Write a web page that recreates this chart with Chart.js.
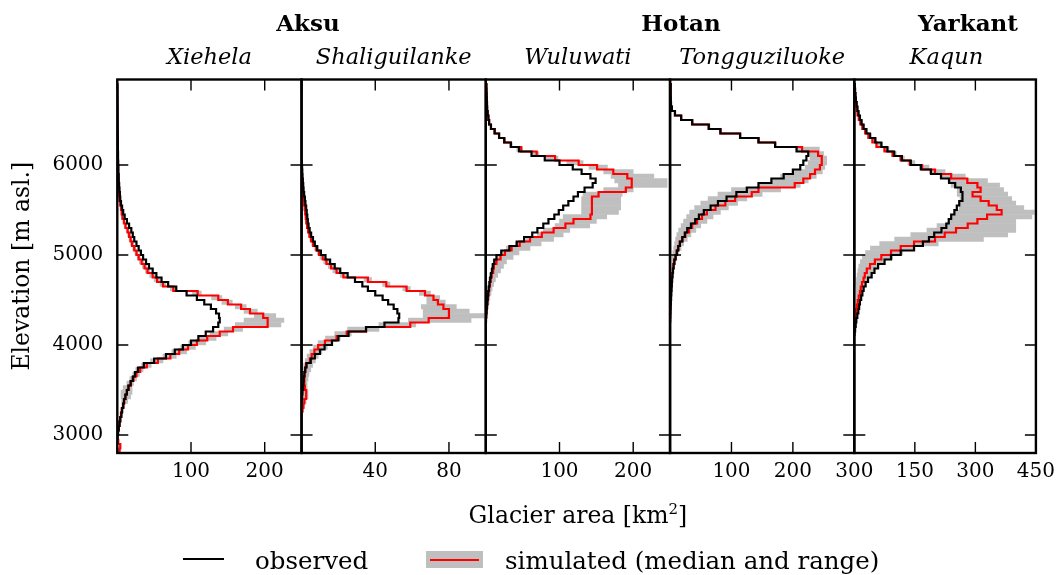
<!DOCTYPE html>
<html>
<head>
<meta charset="utf-8">
<script src="https://cdn.jsdelivr.net/npm/chart.js@4.4.1/dist/chart.umd.min.js"></script>
<style>
  html, body { margin: 0; padding: 0; background: #fff; }
  #wrap { position: relative; width: 1062px; height: 575px; overflow: hidden; font-family: "DejaVu Serif", serif; color: #000; }
  #wrap canvas { position: absolute; left: 0; top: 0; }
  .c { position: absolute; white-space: nowrap; line-height: 1; transform: translate(-50%, -50%); }
  .l { position: absolute; white-space: nowrap; line-height: 1; transform: translate(0, -50%); }
  .basin { font-weight: bold; font-size: 23px; }
  .station { font-style: italic; font-size: 22.5px; }
  .big { font-size: 23.5px; }
  .leg { font-size: 24.5px; }
  sup { font-size: 15px; line-height: 0; }
</style>
</head>
<body>
<div id="wrap"></div>
<script>
const _ = null;

// bin lower edges (m asl.), 50 m bins
const elevation = [
  2800, 2850, 2900, 2950, 3000, 3050, 3100, 3150, 3200, 3250,
  3300, 3350, 3400, 3450, 3500, 3550, 3600, 3650, 3700, 3750,
  3800, 3850, 3900, 3950, 4000, 4050, 4100, 4150, 4200, 4250,
  4300, 4350, 4400, 4450, 4500, 4550, 4600, 4650, 4700, 4750,
  4800, 4850, 4900, 4950, 5000, 5050, 5100, 5150, 5200, 5250,
  5300, 5350, 5400, 5450, 5500, 5550, 5600, 5650, 5700, 5750,
  5800, 5850, 5900, 5950, 6000, 6050, 6100, 6150, 6200, 6250,
  6300, 6350, 6400, 6450, 6500, 6550, 6600, 6650, 6700, 6750,
  6800, 6850, 6900
];

const basins = ['Aksu', 'Hotan', 'Yarkant'];
const stations = ['Xiehela', 'Shaliguilanke', 'Wuluwati', 'Tongguziluoke', 'Kaqun'];

// glacier area per bin [km2]
const xiehelaObs = [
  _, _, _, 0.3, 1, 2, 3, 4, 5.5, 6.5,
  8, 9, 11, 13, 15, 18, 21, 24, 28, 36,
  50, 66, 78, 89, 100, 110, 120, 130, 137, 139,
  138, 134, 127, 118, 108, 94, 80, 69, 60, 53,
  48, 43, 39, 35, 32, 29, 26, 23, 21, 19,
  16, 13, 10, 8, 6.5, 5, 4, 3.5, 3, 2.5,
  2, 2, 1.5, 1.5, 1.2, 1, 1, 0.8, 0.8, 0.7,
  0.6, 0.5, 0.5, 0.4, 0.4, 0.3, 0.3, 0.2, 0.2, 0.1,
  0.1, 0.1, 0
];
const xiehelaSim = [
  3, 4, 1, 0.5, 1, 2, 3, 4, 5, 6,
  8, 9.5, 11, 13, 15.5, 18.5, 22, 26, 31, 40,
  55, 72, 84, 96, 108, 122, 139, 157, 204, 204,
  198, 180, 168, 150, 137, 109, 76, 62, 54, 48,
  41, 37, 33, 29, 26, 23, 20, 18, 16, 14,
  11, 9, 7, 6, 5, 4, 3, 2.5, 2, 1.8,
  1.5, 1.3, 1.1, 1, 0.9, 0.8, 0.7, 0.6, 0.5, 0.5,
  0.4, 0.4, 0.3, 0.3, 0.2, 0.2, 0.2, 0.1, 0.1, 0.1,
  0.1, 0, 0
];
const xiehelaMin = [
  2, 3, 0.5, 0.2, 0.5, 1, 2, 3, 4, 5,
  6, 6, 5, 5, 8, 13, 17, 21, 25, 33,
  45, 62, 74, 86, 97, 110, 126, 145, 160, 172,
  186, 172, 160, 142, 128, 102, 72, 58, 50, 44,
  38, 34, 30, 27, 24, 21, 18, 16, 14, 12,
  10, 8, 6, 5, 4, 3, 2.5, 2, 1.5, 1.4,
  1.2, 1, 0.9, 0.8, 0.7, 0.6, 0.5, 0.5, 0.4, 0.4,
  0.3, 0.3, 0.2, 0.2, 0.1, 0.1, 0.1, 0.1, 0, 0,
  0, 0, 0
];
const xiehelaMax = [
  4, 5, 3, 1.5, 2, 3, 4, 5, 7, 8,
  10, 14, 18, 20, 20, 22, 26, 30, 35, 46,
  62, 80, 94, 106, 120, 134, 150, 170, 222, 226,
  215, 190, 175, 156, 142, 114, 80, 66, 58, 51,
  44, 40, 36, 31, 28, 25, 22, 20, 18, 16,
  13, 10, 8, 7, 6, 5, 4, 3, 2.5, 2.2,
  1.9, 1.6, 1.4, 1.2, 1.1, 1, 0.9, 0.8, 0.7, 0.6,
  0.5, 0.5, 0.4, 0.4, 0.3, 0.3, 0.3, 0.2, 0.2, 0.2,
  0.1, 0.1, 0.1
];

const shaliObs = [
  _, _, _, _, _, _, _, _, _, _,
  0.1, 0.2, 0.3, 0.5, 0.8, 1, 1.2, 1.5, 2, 2.7,
  5, 7.2, 10, 12.5, 16.5, 20, 25.5, 35, 45, 52.6,
  53, 52, 50, 47, 44, 40, 36, 33, 29, 25,
  21, 18, 15.5, 13, 10.5, 8.5, 7.2, 6.2, 5.2, 4.4,
  3.8, 3.4, 3.1, 2.8, 2.5, 2.1, 1.8, 1.4, 1.1, 0.9,
  0.7, 0.5, 0.4, 0.3, 0.1, 0, _, _, _, _,
  _, _, _, _, _, _, _, _, _, _,
  _, _, _
];
const shaliSim = [
  _, _, _, _, _, _, _, _, _, 0.5,
  1, 1.5, 2.5, 2.5, 1.8, 1.5, 1.5, 1.8, 2, 2.5,
  4.5, 5.5, 7, 9, 12.7, 19, 24.5, 35, 59, 69,
  80, 80, 77, 74, 71.6, 67, 57, 46, 36, 22.7,
  19, 16, 13.5, 11.5, 9.5, 8, 6.3, 5.2, 4.3, 3.6,
  3, 2.6, 2.3, 2, 1.7, 1.4, 1.1, 0.9, 0.7, 0.5,
  0.4, 0.3, 0.2, 0.1, 0, _, _, _, _, _,
  _, _, _, _, _, _, _, _, _, _,
  _, _, _
];
const shaliMin = [
  _, _, _, _, _, _, _, _, _, 0.2,
  0.5, 0.8, 1, 0.5, 0.5, 0.5, 0.8, 1, 1, 1.2,
  2, 3, 4.5, 6.5, 9, 13, 18, 25, 42, 58,
  66, 66, 65, 68, 68, 64, 55, 44, 34, 21,
  17, 14.5, 12, 10, 8.5, 7, 5.5, 4.5, 3.8, 3.2,
  2.6, 2.2, 2, 1.7, 1.4, 1.2, 0.9, 0.7, 0.5, 0.4,
  0.3, 0.2, 0.1, 0, 0, _, _, _, _, _,
  _, _, _, _, _, _, _, _, _, _,
  _, _, _
];
const shaliMax = [
  _, _, _, _, _, _, _, _, _, 1,
  1.5, 2.5, 3.5, 3.5, 3, 3, 3.5, 4, 5, 6,
  7.5, 9, 11, 14, 17, 21, 27, 42, 62, 92,
  99, 91, 84, 78, 75, 70, 59, 48, 38, 24,
  21, 18, 15, 13, 11, 9, 7.2, 6, 5, 4.2,
  3.5, 3, 2.7, 2.3, 2, 1.7, 1.4, 1.1, 0.9, 0.7,
  0.5, 0.4, 0.3, 0.2, 0.1, _, _, _, _, _,
  _, _, _, _, _, _, _, _, _, _,
  _, _, _
];

const wuluObs = [
  _, _, _, _, _, _, _, _, _, _,
  _, _, _, _, _, _, _, _, _, _,
  _, _, _, _, _, _, _, _, _, 0.3,
  0.6, 1, 1.5, 2, 2.6, 3.3, 4, 5, 6, 7,
  8.5, 9.5, 11.5, 14.5, 21, 32, 42, 52, 63, 70,
  78, 85, 93, 99, 105, 112, 119, 125, 134, 145,
  149, 142, 130, 118, 100, 80, 62, 45, 34, 25,
  18, 12, 7, 4.5, 3.5, 2.5, 1.8, 1.6, 1.4, 1.2,
  1, 0.8, 0.5
];
const wuluSim = [
  _, _, _, _, _, _, _, _, _, _,
  _, _, _, _, _, _, _, _, _, _,
  _, _, _, _, _, _, _, _, _, _,
  0.6, 1.1, 1.6, 2.2, 2.8, 3.5, 4.5, 5.4, 6.5, 8,
  10, 11, 14.5, 20, 26, 35, 46, 60, 76, 92,
  108, 119, 142, 144, 144, 144, 144, 153, 190, 198,
  198, 192, 173, 151, 126, 94, 69, 48, 34, 25,
  18, 12, 7, 4.5, 3.5, 2.5, 1.8, 1.6, 1.4, 1.2,
  1, 0.8, 0.5
];
const wuluMin = [
  _, _, _, _, _, _, _, _, _, _,
  _, _, _, _, _, _, _, _, _, _,
  _, _, _, _, _, _, _, _, _, 0,
  0, 0.3, 0.6, 1, 1.5, 2, 2.5, 3, 4, 5,
  6.5, 8, 10, 14, 20, 28, 40, 55, 70, 78,
  94, 100, 105, 130, 130, 130, 130, 132, 160, 180,
  175, 170, 160, 140, 110, 82, 62, 42, 33, 24,
  17, 11, 6.5, 4, 3, 2.2, 1.6, 1.4, 1.2, 1,
  0.8, 0.6, 0.4
];
const wuluMax = [
  _, _, _, _, _, _, _, _, _, _,
  _, _, _, _, _, _, _, _, _, _,
  _, _, _, _, _, _, _, _, _, 0.8,
  1.5, 2.5, 3.5, 4.5, 5.5, 7, 8.5, 10.5, 13, 16,
  20, 24, 28, 37, 45, 60, 75, 92, 105, 114,
  141, 150, 164, 180, 183, 183, 183, 185, 200, 246,
  246, 228, 200, 165, 132, 98, 72, 50, 36, 27,
  19, 13, 7.5, 5, 4, 2.8, 2, 1.8, 1.6, 1.4,
  1.2, 1, 0.7
];

const tongObs = [
  _, _, _, _, _, _, _, _, _, _,
  _, _, _, _, _, _, _, _, _, _,
  _, _, _, _, _, _, _, _, _, 0.2,
  0.4, 0.7, 1, 1.3, 1.7, 2.1, 2.5, 2.9, 3.4, 4,
  4.8, 5.8, 7, 9, 11, 13.5, 16, 20, 24, 28,
  34, 41, 47, 55, 66, 78, 92, 108, 125, 144,
  165, 185, 200, 212, 217, 222, 225, 206, 171, 144,
  114, 82, 63, 36, 18, 8, 3, 1.5, 1.2, 1,
  1, 1, 0.8
];
const tongSim = [
  _, _, _, _, _, _, _, _, _, _,
  _, _, _, _, _, _, _, _, _, _,
  _, _, _, _, _, _, _, _, _, _,
  0, 0.2, 0.4, 0.7, 1, 1.4, 1.8, 2.2, 2.8, 3.5,
  4.5, 5.5, 7, 9, 11, 13, 16, 20, 25, 31,
  36, 44, 52, 60, 74, 90, 106, 133, 144, 203,
  217, 228, 236, 244, 247, 247, 241, 215, 171, 144,
  114, 82, 63, 36, 18, 8, 3, 1.5, 1.2, 1,
  1, 1, 0.8
];
const tongMin = [
  _, _, _, _, _, _, _, _, _, _,
  _, _, _, _, _, _, _, _, _, _,
  _, _, _, _, _, _, _, _, _, _,
  0, 0, 0, 0, 0.1, 0.2, 0.3, 0.5, 0.7, 1,
  1.5, 2, 2.5, 3.5, 4.5, 6, 7.5, 9, 11, 14,
  18, 22, 27, 32, 40, 50, 62, 78, 100, 145,
  165, 180, 200, 220, 225, 228, 225, 205, 170, 143,
  113, 81, 62, 35, 17, 7.5, 2.5, 1.2, 1, 0.8,
  0.8, 0.8, 0.6
];
const tongMax = [
  _, _, _, _, _, _, _, _, _, _,
  _, _, _, _, _, _, _, _, _, _,
  _, _, _, _, _, _, _, _, _, _,
  0.1, 0.3, 0.6, 1, 1.5, 2, 2.5, 3.2, 4, 5,
  6, 7, 9, 11, 14, 18, 22, 28, 34, 42,
  50, 60, 70, 82, 95, 110, 125, 150, 180, 212,
  225, 238, 248, 252, 255, 255, 250, 243, 173, 146,
  116, 84, 65, 38, 20, 9, 3.5, 1.8, 1.4, 1.2,
  1.2, 1.2, 1
];

const kaqunObs = [
  _, _, _, _, _, _, _, _, _, _,
  _, _, _, _, _, _, _, _, _, _,
  _, _, _, _, _, _, 0.5, 2, 3.5, 5,
  7.5, 10, 12, 14, 17, 20, 23, 28, 34, 43,
  50, 59, 75, 91, 115, 148, 170, 185, 198, 216,
  228, 234, 240, 248, 254, 260, 268, 268, 264, 250,
  235, 215, 190, 165, 140, 118, 99, 82, 67, 52,
  39, 30, 23, 18, 14, 10.6, 8, 6, 4, 3,
  2, 1.5, 1
];
const kaqunSim = [
  _, _, _, _, _, _, _, _, _, _,
  _, _, _, _, _, _, _, _, _, _,
  _, _, _, _, _, _, _, 0.5, 1, 2,
  3, 4.5, 6.5, 8.5, 11, 14, 16, 19, 23, 26,
  31, 39, 51, 67, 91, 115, 148, 200, 224, 252,
  281, 305, 329, 365, 353, 333, 313, 293, 313, 305,
  280, 240, 200, 168, 138, 115, 95, 75, 55, 45,
  35, 27, 20, 15, 11, 8, 6, 4.5, 3.5, 2.5,
  1.5, 1, 0.5
];
const kaqunMin = [
  _, _, _, _, _, _, _, _, _, _,
  _, _, _, _, _, _, _, _, _, _,
  _, _, _, _, _, _, 0, 0, 0.1, 0.3,
  0.5, 0.8, 1.2, 1.7, 2.3, 3, 3.5, 4.5, 5.5, 7,
  9, 11, 15, 20, 28, 40, 63, 100, 140, 180,
  205, 236, 240, 250, 260, 262, 262, 255, 255, 240,
  232, 212, 186, 162, 133, 112, 92, 72, 53, 43,
  33, 25, 18, 13.5, 10, 7, 5, 3.5, 2.5, 1.8,
  1, 0.6, 0.2
];
const kaqunMax = [
  _, _, _, _, _, _, _, _, _, _,
  _, _, _, _, _, _, _, _, _, _,
  _, _, _, _, _, _, 0.6, 2, 4, 5.5,
  8, 10.5, 12.5, 15, 18, 21, 25, 29, 35, 43,
  50, 60, 75, 95, 120, 150, 208, 320, 380, 400,
  400, 400, 440, 446, 420, 400, 390, 380, 370, 360,
  330, 275, 225, 185, 150, 124, 104, 86, 70, 55,
  42, 32, 25, 19.5, 15, 11.5, 8.5, 6.5, 4.5, 3.5,
  2.5, 2, 1.5
];

// axis ranges and ticks
const xMax = [250, 100, 250, 300, 450];
const xTicks = [[0, 100, 200], [0, 40, 80], [0, 100, 200], [0, 100, 200, 300], [0, 150, 300, 450]];
const yTicks = [3000, 4000, 5000, 6000];

const panels = [
  { obs: xiehelaObs, sim: xiehelaSim, lo: xiehelaMin, hi: xiehelaMax },
  { obs: shaliObs, sim: shaliSim, lo: shaliMin, hi: shaliMax },
  { obs: wuluObs, sim: wuluSim, lo: wuluMin, hi: wuluMax },
  { obs: tongObs, sim: tongSim, lo: tongMin, hi: tongMax },
  { obs: kaqunObs, sim: kaqunSim, lo: kaqunMin, hi: kaqunMax }
];

// layout (px)
const W = 1062, H = 575;
const plotLeft = 117.3, plotW = 184.25, plotTop = 79.5, plotBottom = 453, xAxisH = 40;
const FONT = 'DejaVu Serif';

const wrap = document.getElementById('wrap');

function steps(vals) {
  const out = [];
  vals.forEach((v, i) => { if (v !== null) out.push({ x: v, y: elevation[i] }); });
  return out;
}
function band(lo, hi) {
  const out = [];
  lo.forEach((v, i) => {
    if (v !== null && hi[i] !== null) out.push({ x: [v, hi[i]], y: elevation[i] + 25 });
  });
  return out;
}

// frame + inward tick marks
const frame = {
  id: 'frame',
  afterDraw(chart) {
    const { ctx, chartArea: a } = chart;
    const sx = chart.scales.x, sy = chart.scales.y;
    const tl = 11;
    ctx.save();
    ctx.strokeStyle = '#000';
    ctx.lineWidth = 1.4;
    ctx.beginPath();
    sx.ticks.forEach(t => {
      const p = sx.getPixelForValue(t.value);
      ctx.moveTo(p, a.bottom); ctx.lineTo(p, a.bottom - tl);
      ctx.moveTo(p, a.top); ctx.lineTo(p, a.top + tl);
    });
    sy.ticks.forEach(t => {
      const p = sy.getPixelForValue(t.value);
      ctx.moveTo(a.left, p); ctx.lineTo(a.left + tl, p);
      ctx.moveTo(a.right, p); ctx.lineTo(a.right - tl, p);
    });
    ctx.stroke();
    ctx.lineWidth = 2.4;
    ctx.strokeRect(a.left, a.top, a.right - a.left, a.bottom - a.top);
    ctx.restore();
  }
};

panels.forEach((p, i) => {
  const cv = document.createElement('canvas');
  cv.width = W; cv.height = H;
  cv.style.width = W + 'px'; cv.style.height = H + 'px';
  wrap.appendChild(cv);

  const left = plotLeft + i * plotW;
  const first = i === 0;

  new Chart(cv, {
    type: 'line',
    data: {
      datasets: [
        { type: 'line', label: 'observed', data: steps(p.obs), borderColor: '#000', borderWidth: 2.2,
          stepped: 'after', pointRadius: 0, fill: false, order: 0 },
        { type: 'line', label: 'simulated median', data: steps(p.sim), borderColor: '#ff0000', borderWidth: 2.2,
          stepped: 'after', pointRadius: 0, fill: false, order: 1 },
        { type: 'bar', label: 'simulated range', data: band(p.lo, p.hi), backgroundColor: '#bfbfbf',
          borderWidth: 0, barPercentage: 1, categoryPercentage: 1, order: 2 }
      ]
    },
    options: {
      indexAxis: 'y',
      responsive: false,
      animation: false,
      devicePixelRatio: 1,
      events: [],
      layout: {
        padding: {
          left: first ? 0 : left,
          right: W - (left + plotW),
          top: plotTop,
          bottom: H - plotBottom - xAxisH
        }
      },
      plugins: { legend: { display: false }, tooltip: { enabled: false } },
      scales: {
        x: {
          type: 'linear', position: 'bottom', min: 0, max: xMax[i], offset: false,
          grid: { display: false, drawTicks: false, offset: false },
          border: { display: false },
          afterBuildTicks: s => { s.ticks = xTicks[i].map(v => ({ value: v })); },
          afterFit: s => { s.height = xAxisH; },
          ticks: {
            autoSkip: false, maxRotation: 0, padding: 7, color: '#000',
            font: { family: FONT, size: 20 },
            callback: v => (v === 0 ? '' : String(v))
          }
        },
        y: {
          type: 'linear', position: 'left', min: 2800, max: 6950, offset: false,
          grid: { display: false, drawTicks: false, offset: false },
          border: { display: false },
          afterBuildTicks: s => { s.ticks = yTicks.map(v => ({ value: v })); },
          afterFit: s => { s.width = first ? plotLeft : 0; },
          ticks: {
            display: first, padding: 14, color: '#000', font: { family: FONT, size: 20 },
            callback: v => String(v)
          },
          title: {
            display: first, text: 'Elevation [m asl.]', color: '#000',
            font: { family: FONT, size: 23.5 }, padding: { top: 9, bottom: 0 }
          }
        }
      }
    },
    plugins: [frame]
  });
});

// titles, axis label and legend as text
function addText(cls, text, x, y, html) {
  const d = document.createElement('div');
  d.className = cls;
  if (html) d.innerHTML = text; else d.textContent = text;
  d.style.left = x + 'px';
  d.style.top = y + 'px';
  wrap.appendChild(d);
  return d;
}
function addBox(x, y, w, h, color) {
  const d = document.createElement('div');
  d.style.cssText = `position:absolute;left:${x}px;top:${y}px;width:${w}px;height:${h}px;background:${color};`;
  wrap.appendChild(d);
}

const basinX = [308, 681, 968];
basins.forEach((b, k) => addText('c basin', b, basinX[k], 22));
stations.forEach((s, i) => addText('c station', s, plotLeft + (i + 0.5) * plotW, 56));

addText('c big', 'Glacier area [km<sup>2</sup>]', plotLeft + 2.5 * plotW, 516, true);

// legend
addBox(183, 558, 41, 2.2, '#000');
addText('l leg', 'observed', 255, 561);
addBox(426, 551, 57, 17, '#bfbfbf');
addBox(430, 558.5, 49, 2.2, '#ff0000');
addText('l leg', 'simulated (median and range)', 505, 561);
</script>
</body>
</html>
